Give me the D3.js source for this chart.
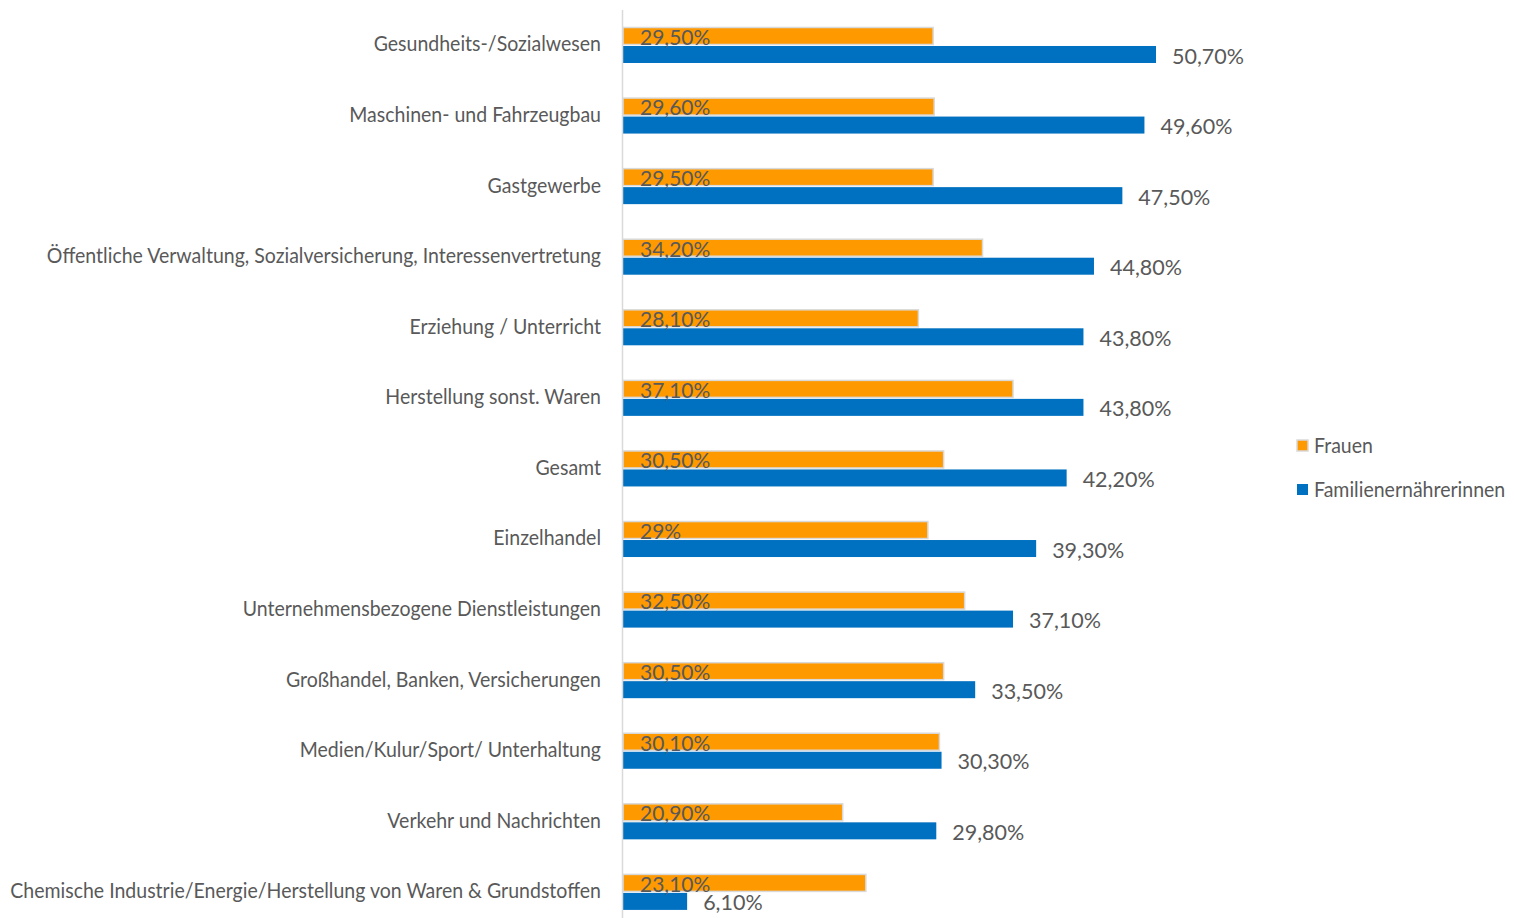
<!DOCTYPE html>
<html><head><meta charset="utf-8">
<script src="https://cdn.jsdelivr.net/npm/d3@7"></script>
<style>
html,body{margin:0;padding:0;background:#fff;}
svg{display:block;}
text{font-family:"Lato",sans-serif;fill:#595959;}
</style></head><body>
<svg id="chart" width="1514" height="918"></svg>
<script>
const categories = [
  "Gesundheits-/Sozialwesen",
  "Maschinen- und Fahrzeugbau",
  "Gastgewerbe",
  "Öffentliche Verwaltung, Sozialversicherung, Interessenvertretung",
  "Erziehung / Unterricht",
  "Herstellung sonst. Waren",
  "Gesamt",
  "Einzelhandel",
  "Unternehmensbezogene Dienstleistungen",
  "Großhandel, Banken, Versicherungen",
  "Medien/Kulur/Sport/ Unterhaltung",
  "Verkehr und Nachrichten",
  "Chemische Industrie/Energie/Herstellung von Waren & Grundstoffen"
];
const seriesNames = ["Frauen", "Familienernährerinnen"];
const frauen = [29.5, 29.6, 29.5, 34.2, 28.1, 37.1, 30.5, 29.0, 32.5, 30.5, 30.1, 20.9, 23.1];
const familien = [50.7, 49.6, 47.5, 44.8, 43.8, 43.8, 42.2, 39.3, 37.1, 33.5, 30.3, 29.8, 6.1];
const frauenLabels = ["29,50%","29,60%","29,50%","34,20%","28,10%","37,10%","30,50%","29%","32,50%","30,50%","30,10%","20,90%","23,10%"];
const familienLabels = ["50,70%","49,60%","47,50%","44,80%","43,80%","43,80%","42,20%","39,30%","37,10%","33,50%","30,30%","29,80%","6,10%"];
const colors = ["#FF9900", "#0070C0"];

const svg = d3.select("#chart");
const x0 = 623;
const x = d3.scaleLinear().domain([0, 50.7]).range([x0, 1156]);
const y = d3.scaleBand().domain(categories).range([9.7, 927.2]).paddingInner(0.49).paddingOuter(0.245);
const ySub = d3.scaleBand().domain(seriesNames).range([0, y.bandwidth()]);

const data = categories.map((c, i) => ({cat: c, vals: [
  {s: seriesNames[0], v: frauen[i], lab: frauenLabels[i]},
  {s: seriesNames[1], v: familien[i], lab: familienLabels[i]}
]}));

const g = svg.selectAll("g.cat").data(data).join("g").attr("class","cat")
  .attr("transform", d => `translate(0,${y(d.cat)})`);

g.selectAll("rect").data(d => d.vals).join("rect")
  .attr("x", x(0))
  .attr("y", d => ySub(d.s) + (d.s === seriesNames[0] ? 0.5 : 1))
  .attr("width", d => x(d.v) - x(0))
  .attr("height", d => ySub.bandwidth() - 1)
  .attr("fill", (d, i) => colors[i])
  .attr("stroke", (d, i) => i === 0 ? "#D9D9D9" : "none")
  .attr("stroke-width", 1.5);

const numSize = 21;
const catSize = 21;
const squeeze = 0.93;

// Frauen labels (inside base)
g.append("text")
  .attr("x", 640)
  .attr("y", d => ySub(seriesNames[0]) + ySub.bandwidth()/2 + 1.5)
  .attr("dy", "0.35em")
  .attr("font-size", numSize)
  .text(d => d.vals[0].lab);

// Familien labels (outside end)
g.append("text")
  .attr("x", d => x(d.vals[1].v) + 16)
  .attr("y", d => ySub(seriesNames[1]) + ySub.bandwidth()/2 + 2)
  .attr("dy", "0.35em")
  .attr("font-size", numSize + 0.5)
  .text(d => d.vals[1].lab);

// category labels
svg.append("g").selectAll("text").data(categories).join("text")
  .attr("transform", d => `translate(601,${y(d) + y.bandwidth()/2 - 1}) scale(${squeeze},1)`)
  .attr("dy", "0.35em")
  .attr("text-anchor", "end")
  .attr("font-size", catSize)
  .text(d => d);

// axis line
svg.append("line").attr("x1", x0 - 0.5).attr("x2", x0 - 0.5).attr("y1", 10).attr("y2", 918)
  .attr("stroke", "#D9D9D9").attr("stroke-width", 1.5);

// legend
const leg = svg.append("g").selectAll("g").data(seriesNames).join("g")
  .attr("transform", (d, i) => `translate(1297,${446 + i*44})`);
leg.append("rect").attr("x", 0).attr("y", -6).attr("width", 11).attr("height", 11)
  .attr("fill", (d, i) => colors[i])
  .attr("stroke", (d, i) => i === 0 ? "#D9D9D9" : "none").attr("stroke-width", 1.5);
leg.append("text").attr("transform", `translate(17,0) scale(${squeeze},1)`).attr("dy", "0.35em")
  .attr("font-size", catSize).text(d => d);
</script>
</body></html>
